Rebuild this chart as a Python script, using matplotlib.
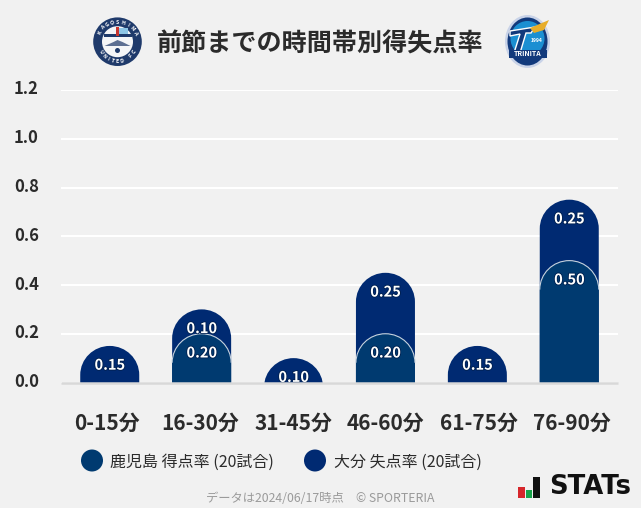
import matplotlib
matplotlib.use('Agg')
import matplotlib.pyplot as plt
from matplotlib.patches import Circle, PathPatch, Rectangle, Polygon, Ellipse
from matplotlib.path import Path
from matplotlib.transforms import ScaledTranslation
import matplotlib.patheffects as pe
import numpy as np

plt.rcParams['font.family'] = ['Noto Sans CJK JP', 'DejaVu Sans']

categories = ['0-15分', '16-30分', '31-45分', '46-60分', '61-75分', '76-90分']
kagoshima_scored = [0, 0.20, 0, 0.20, 0, 0.50]
oita_conceded = [0.15, 0.10, 0.10, 0.25, 0.15, 0.25]
yticks = [0.0, 0.2, 0.4, 0.6, 0.8, 1.0, 1.2]

title = '前節までの時間帯別得失点率'
legend_labels = ['鹿児島 得点率 (20試合)', '大分 失点率 (20試合)']
footer = 'データは2024/06/17時点　© SPORTERIA'

BG = '#f1f1f1'
KAGO = '#003a70'
OITA = '#002a72'
W, H = 641, 508

fig = plt.figure(figsize=(W / 100, H / 100), dpi=100, facecolor=BG)
# axes placed in pixels, same as the reference plot area
left, right, top, bottom = 61, 618, 90, 382.5
ax = fig.add_axes([left / W, 1 - bottom / H, (right - left) / W, (bottom - top) / H], facecolor=BG)
ax.set_xlim(-0.5, 5.5)
ax.set_ylim(0, 1.2)

px_x = (right - left) / 6
px_y = (bottom - top) / 1.2
BAR_W = 59 / px_x
RX = BAR_W / 2
RY = 29 / px_y
K = 0.5523
BAR_SPREAD = 0.99  # bars sit a bit tighter than the tick labels


def dome(x, val):
    # bar with a round top, runs below the axis so short ones get clipped
    l, r = x - RX, x + RX
    s = val - RY
    verts = [(l, -0.1), (l, s),
             (l, s + K * RY), (x - K * RX, val), (x, val),
             (x + K * RX, val), (r, s + K * RY), (r, s),
             (r, -0.1), (l, -0.1)]
    codes = [Path.MOVETO, Path.LINETO,
             Path.CURVE4, Path.CURVE4, Path.CURVE4,
             Path.CURVE4, Path.CURVE4, Path.CURVE4,
             Path.LINETO, Path.CLOSEPOLY]
    return Path(verts, codes)


def arc(x, val):
    l, r = x - RX, x + RX
    s = val - RY
    verts = [(l, s), (l, s + K * RY), (x - K * RX, val), (x, val),
             (x + K * RX, val), (r, s + K * RY), (r, s)]
    codes = [Path.MOVETO, Path.CURVE4, Path.CURVE4, Path.CURVE4,
             Path.CURVE4, Path.CURVE4, Path.CURVE4]
    return Path(verts, codes)


ax.yaxis.grid(True, color='white', lw=1.5)
ax.set_axisbelow(True)
for s in ax.spines.values():
    s.set_visible(False)
ax.set_xticks(range(6), categories)
ax.set_yticks(yticks, [f'{v:.1f}' for v in yticks])
ax.tick_params(length=0)
ax.tick_params(axis='x', pad=22, labelsize=15, labelcolor='#2b2b2b')
ax.tick_params(axis='y', pad=16, labelsize=12, labelcolor='#2b2b2b')
for lab in ax.get_xticklabels() + ax.get_yticklabels():
    lab.set_fontweight('bold')
# y labels sit a little above their gridlines
for lab in ax.get_yticklabels():
    lab.set_transform(lab.get_transform() + ScaledTranslation(0, 1.8 / 72, fig.dpi_scale_trans))

halo = [pe.withStroke(linewidth=1.2, foreground='#00204f')]
for i in range(6):
    x = 2.5 + (i - 2.5) * BAR_SPREAD
    k, o = kagoshima_scored[i], oita_conceded[i]
    ax.add_patch(PathPatch(dome(x, k + o), fc=OITA, ec='none', zorder=3))
    ax.annotate(f'{o:.2f}', (x, k + o), xytext=(0, -13.5), textcoords='offset points',
                ha='center', va='center', color='white', fontsize=10.5,
                fontweight='bold', zorder=6, path_effects=halo)
    if k > 0:
        ax.add_patch(PathPatch(dome(x, k), fc=KAGO, ec='none', zorder=4))
        ax.add_patch(PathPatch(arc(x, k), fc='none', ec='#c6d2de', lw=0.8, zorder=5))
        ax.annotate(f'{k:.2f}', (x, k), xytext=(0, -13.5), textcoords='offset points',
                    ha='center', va='center', color='white', fontsize=10.5,
                    fontweight='bold', zorder=6, path_effects=halo)

# baseline
ax.axhline(0, color='#d8d8d8', lw=1.8, zorder=7, clip_on=False, solid_capstyle='butt')

# overlay in pixel coordinates for title, legend and logos
ov = fig.add_axes([0, 0, 1, 1], facecolor='none')
ov.set_xlim(0, W)
ov.set_ylim(H, 0)
ov.axis('off')

ov.text(320.5, 43.5, title, ha='center', va='center', fontsize=18.05,
        fontweight='bold', color='#2b2b2b')

ov.add_patch(Circle((92, 460.5), 11, fc=KAGO, ec='none'))
ov.add_patch(Circle((315, 460.5), 11, fc=OITA, ec='none'))
ov.text(110, 462, legend_labels[0], ha='left', va='center', fontsize=11.5, color='#2b2b2b')
ov.text(334, 462, legend_labels[1], ha='left', va='center', fontsize=11.5, color='#2b2b2b')
ov.text(320.5, 498.5, footer, ha='center', va='center', fontsize=8.85, color='#9a9a9a')

# Kagoshima crest
cx, cy = 117.5, 41.7
ov.add_patch(Circle((cx, cy), 24.3, fc='#1f3a6b', ec='none'))
ov.add_patch(Circle((cx, cy), 15.5, fc='#f4f5f7', ec='none'))
ov.add_patch(Rectangle((cx + 1, 28), 9, 7, fc='#8ec6e6', ec='none'))
ov.add_patch(Rectangle((cx - 14, 33.5), 28, 3, fc='#1f3a6b', ec='none'))
ov.add_patch(Rectangle((cx - 1.2, 27), 2.2, 9, fc='#c8352e', ec='none'))
ov.add_patch(Polygon([(cx - 13, 46), (cx - 4, 42), (cx, 40), (cx + 5, 42), (cx + 13, 46)], fc='#5d6f92', ec='none'))
ov.add_patch(Circle((cx, 50.5), 2.5, fc='#1f3a6b', ec='none'))
for ch, ang in zip('KAGOSHIMA', np.linspace(-62, 62, 9)):
    a = np.radians(ang)
    ov.text(cx + 19.7 * np.sin(a), cy - 19.7 * np.cos(a), ch, color='white', fontsize=3.8,
            fontweight='bold', ha='center', va='center', rotation=-ang)
for ch, ang in zip('UNITED FC', np.linspace(-58, 58, 9)):
    a = np.radians(ang)
    ov.text(cx + 19.7 * np.sin(a), cy + 19.7 * np.cos(a), ch, color='white', fontsize=3.8,
            fontweight='bold', ha='center', va='center', rotation=ang)

# Oita crest
ox, oy = 527.5, 41.5
ov.add_patch(Ellipse((ox, oy), 45, 53, fc='#c9d3e8', ec='none'))
ov.add_patch(Ellipse((ox, oy), 40, 48, fc='#123a7c', ec='none'))
ov.add_patch(Ellipse((ox, oy - 3), 34, 35, fc='#1b8fd2', ec='none'))
ov.add_patch(Polygon([(510, 31), (535, 27), (531, 33), (526, 33), (520, 53), (514, 53), (520, 34), (510, 36)],
                     fc='#123a7c', ec='white', lw=1))
ov.add_patch(Polygon([(530, 28), (549, 20), (544, 30), (534, 33)], fc='#e7ad2a', ec='none'))
ov.add_patch(Rectangle((509, 49.5), 38, 8, fc='#123a7c', ec='none'))
ov.text(ox, 53.5, 'TRINITA', color='white', fontsize=5, fontweight='bold', ha='center', va='center')
ov.text(537, 40, '1994', color='white', fontsize=3.5, fontweight='bold', ha='center', va='center')

# STATS logo
ov.add_patch(Rectangle((518, 487), 6.5, 10.5, fc='#d6262b', ec='none'))
ov.add_patch(Rectangle((525.5, 490), 6.5, 7.5, fc='#18a34a', ec='none'))
ov.add_patch(Rectangle((533, 477), 6.5, 20.5, fc='#111111', ec='none'))
ov.text(549, 487.5, 'STATs', ha='left', va='center', fontsize=18.6, fontweight='bold',
        color='#111111', family='DejaVu Sans')

plt.savefig('out.png', dpi=100, facecolor=BG)
